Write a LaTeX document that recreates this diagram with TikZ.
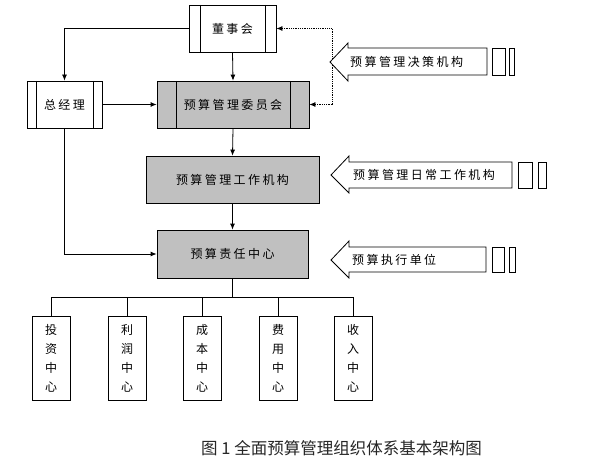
\documentclass[tikz,border=0pt]{standalone}
\usepackage{fontspec}
\usepackage{tikz}
\usepackage{xcolor}
\usetikzlibrary{arrows.meta, positioning}

\newfontfamily\cjk[LetterSpace=20]{Noto Sans CJK SC}
\newfontfamily\capfont{Noto Sans CJK SC}
\definecolor{boxgray}{RGB}{192,192,192}

\tikzset{
  unit/.style={draw, line width=0.8pt, inner sep=0pt, font=\cjk\fontsize{12}{14}\selectfont},
  predef/.style={unit, path picture={
    \draw[line width=0.8pt] ([xshift=#1]path picture bounding box.north west) -- ([xshift=#1]path picture bounding box.south west)
      ([xshift=-#1]path picture bounding box.north east) -- ([xshift=-#1]path picture bounding box.south east);}},
  shaded/.style={fill=boxgray},
  ctr/.style={unit, minimum width=38pt, minimum height=84pt, align=center, font=\cjk\fontsize{12}{19}\selectfont},
  link/.style={line width=0.8pt, -{Latex[length=6pt,width=5pt]}},
  plain/.style={line width=0.8pt},
  tag/.style={anchor=west, inner sep=0pt, font=\cjk\fontsize{12}{14}\selectfont},
}

\begin{document}
\begin{tikzpicture}[x=1pt, y=-1pt]
\useasboundingbox (0,0) rectangle (601,470);

% main chain
\node[predef=11pt, minimum width=87pt, minimum height=47pt] (dsh) at (232.5,28.5) {董事会};
\node[predef=9pt, minimum width=75pt, minimum height=47pt] (zjl) at (64.5,104.5) {总经理};
\node[predef=19pt, shaded, minimum width=152pt, minimum height=47pt] (wyh) at (233,104.5) {预算管理委员会};
\node[unit, shaded, minimum width=173pt, minimum height=47pt] (gzjg) at (232.5,179.5) {预算管理工作机构};
\node[unit, shaded, minimum width=151pt, minimum height=48pt] (zrzx) at (232.5,254) {预算责任中心};

% responsibility centres
\node[ctr] (tz) at (51,358) {投\\资\\中\\心};
\node[ctr] (lr) at (127,358) {利\\润\\中\\心};
\node[ctr] (cb) at (202,358) {成\\本\\中\\心};
\node[ctr] (fy) at (278,358) {费\\用\\中\\心};
\node[ctr] (sr) at (353,358) {收\\入\\中\\心};

\draw[link] (dsh.west) -| (zjl.north);
\draw[link] (dsh.south) -- (wyh.north);
\draw[link] (zjl.east) -- (wyh.west);
\draw[link] (wyh.south) -- (gzjg.north);
\draw[link] (gzjg.south) -- (zrzx.north);
\draw[link] (zjl.south) |- (zrzx.west);

\coordinate (bus) at (232.5,297);
\draw[plain] (zrzx.south) -- (bus);
\foreach \c in {tz,lr,cb,fy,sr}
  \draw[plain] (bus) -| (\c.north);

% decision loop
\coordinate (jc) at (332,28.5);
\draw[plain, densely dotted, {Latex[length=6pt,width=5pt]}-{Latex[length=6pt,width=5pt]}]
  (dsh.east) -- (jc) -- (jc |- wyh.east) -- (wyh.east);

% side labels
\draw[plain, fill=white] (330,62) -- (348,43) -- (348,48) -- (487,48) -- (487,75) -- (348,75) -- (348,81) -- cycle;
\draw[plain] (492,48) rectangle (505,75) (509,48) rectangle (514,75);
\node[tag] (jcjg) at (350,62) {预算管理决策机构};

\draw[plain, fill=white] (331,175) -- (349,156) -- (349,162) -- (512,162) -- (512,188) -- (349,188) -- (349,193) -- cycle;
\draw[plain] (518,162) rectangle (532,188) (538,162) rectangle (546,188);
\node[tag] (rcjg) at (353,175) {预算管理日常工作机构};

\draw[plain, fill=white] (331,260) -- (349,241) -- (349,247) -- (486,247) -- (486,272) -- (349,272) -- (349,278) -- cycle;
\draw[plain] (492,247) rectangle (504,272) (509,247) rectangle (515,272);
\node[tag] (zxdw) at (352,260) {预算执行单位};

% caption
\node[font=\capfont\fontsize{16.5}{20}\selectfont, text=black!85] (cap) at (341.5,448) {图 1 全面预算管理组织体系基本架构图};
\end{tikzpicture}
\end{document}
